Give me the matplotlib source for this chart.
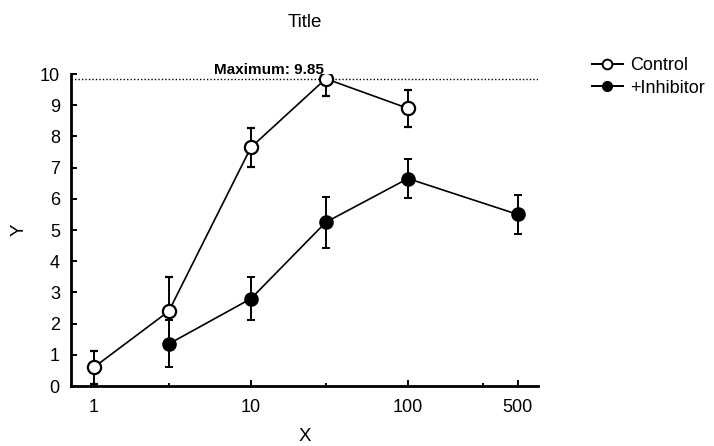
import matplotlib.pyplot as plt
from matplotlib.lines import Line2D
from matplotlib.ticker import FixedLocator, NullFormatter

plt.rcParams["font.family"] = ["Liberation Sans", "DejaVu Sans"]

# data
control_x = [1, 3, 10, 30, 100]
control_y = [0.6, 2.4, 7.65, 9.85, 8.9]
control_err = [0.52, 1.1, 0.63, 0.55, 0.6]

inhib_x = [3, 10, 30, 100, 500]
inhib_y = [1.35, 2.8, 5.25, 6.65, 5.5]
inhib_err = [0.75, 0.7, 0.82, 0.62, 0.62]

max_value = 9.85
major_ticks = [1, 10, 100, 500]
minor_ticks = [3, 30, 300]

fig = plt.figure(figsize=(7.14, 4.46), dpi=100)
ax = fig.add_axes([0.0994, 0.1345, 0.654, 0.6995])

ax.errorbar(control_x, control_y, yerr=control_err, color="black", lw=1.2,
            marker="o", ms=9.5, mfc="white", mec="black", mew=1.6,
            capsize=3, elinewidth=1.4, capthick=1.4, zorder=3)
ax.errorbar(inhib_x, inhib_y, yerr=inhib_err, color="black", lw=1.2,
            marker="o", ms=9.5, mfc="black", mec="black",
            capsize=3, elinewidth=1.4, capthick=1.4, zorder=3)

ax.axhline(max_value, color="black", lw=1, ls=(0, (1, 1.5)), zorder=1)
ax.text(29, max_value + 0.07, "Maximum: 9.85", fontsize=11, fontweight="bold",
        ha="right", va="bottom")

ax.set_xscale("log")
ax.set_xlim(0.714, 673)
ax.set_ylim(0, 10)
ax.xaxis.set_major_locator(FixedLocator(major_ticks))
ax.set_xticklabels([str(t) for t in major_ticks])
ax.xaxis.set_minor_locator(FixedLocator(minor_ticks))
ax.xaxis.set_minor_formatter(NullFormatter())
ax.set_yticks(range(0, 11))

ax.spines["top"].set_visible(False)
ax.spines["right"].set_visible(False)
ax.spines["left"].set_linewidth(2)
ax.spines["bottom"].set_linewidth(2)
ax.tick_params(which="major", direction="in", length=4, width=1.4, labelsize=13)
ax.tick_params(axis="y", pad=8)
ax.tick_params(axis="x", pad=9)
ax.tick_params(which="minor", direction="in", length=2, width=1.4)

ax.set_title("Title", fontsize=13.5, pad=34)
ax.set_xlabel("X", fontsize=13.5, labelpad=9)
ax.set_ylabel("Y", fontsize=13.5)
ax.yaxis.set_label_coords(-0.093, 0.5)

handles = [
    Line2D([], [], color="black", lw=1.4, marker="o", ms=7, mfc="white", mew=1.4),
    Line2D([], [], color="black", lw=1.4, marker="o", ms=7, mfc="black"),
]
fig.legend(handles, ["Control", "+Inhibitor"], loc="upper left",
           bbox_to_anchor=(0.829, 0.872), frameon=False, fontsize=13,
           handlelength=1.7, handletextpad=0.4, labelspacing=0.3,
           borderaxespad=0, borderpad=0)

fig.savefig("out.png", dpi=100)
